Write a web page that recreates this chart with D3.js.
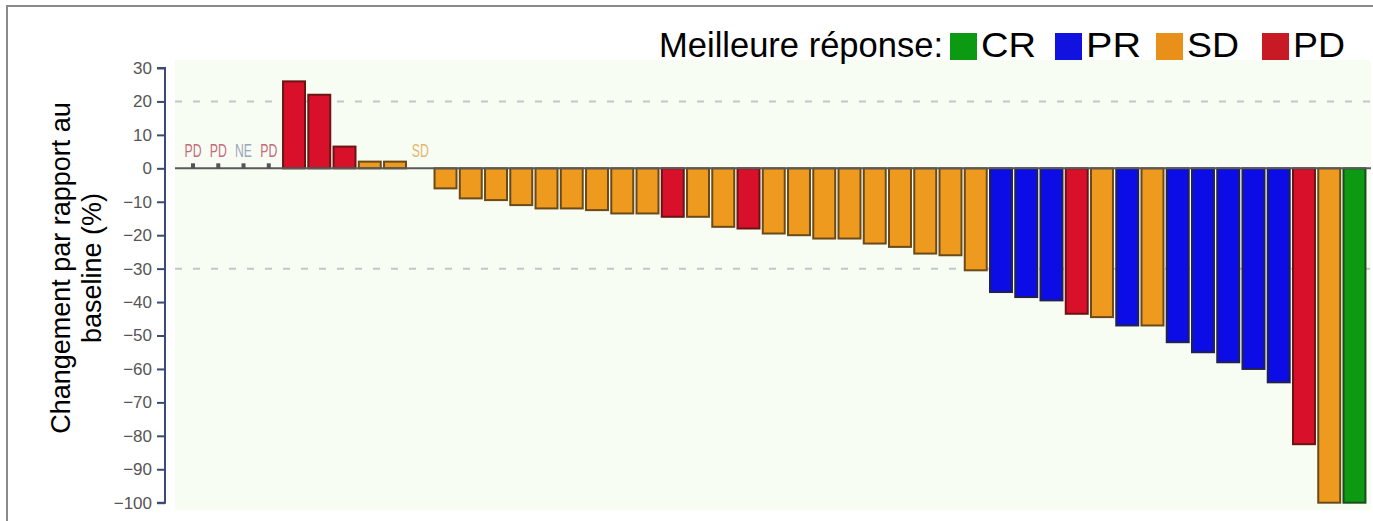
<!DOCTYPE html>
<html>
<head>
<meta charset="utf-8">
<script src="https://cdn.jsdelivr.net/npm/d3@7"></script>
<style>
  body { margin: 0; background: #fff; }
  svg { display: block; font-family: "Liberation Sans", Arial, sans-serif; }
</style>
</head>
<body>
<svg id="chart" width="1373" height="521"></svg>
<script>
// One slot per patient, sorted by best change from baseline
const patients = d3.range(1, 48).map(i => "P" + i);
const changes = [0, 0, 0, 0, 26, 22, 6.5, 2, 2, 0,
    -6, -9, -9.5, -11, -12, -12, -12.5, -13.5, -13.5, -14.5,
    -14.5, -17.5, -18, -19.5, -20, -21, -21, -22.5, -23.5, -25.5,
    -26, -30.5, -37, -38.5, -39.5, -43.5, -44.5, -47, -47, -52,
    -55, -58, -60, -64, -82.5, -100, -100];
const responses = ["PD", "PD", "NE", "PD", "PD", "PD", "PD", "SD", "SD", "SD",
    "SD", "SD", "SD", "SD", "SD", "SD", "SD", "SD", "SD", "PD",
    "SD", "SD", "PD", "SD", "SD", "SD", "SD", "SD", "SD", "SD",
    "SD", "SD", "PR", "PR", "PR", "PD", "SD", "PR", "SD", "PR",
    "PR", "PR", "PR", "PR", "PD", "SD", "CR"];
// patients with no measurable bar: small marker on the zero line + text label
const markerSlots = [0, 1, 2, 3];
const labelSlots = [0, 1, 2, 3, 9];

const legendKeys = ["CR", "PR", "SD", "PD"];
const yTicks = [30, 20, 10, 0, -10, -20, -30, -40, -50, -60, -70, -80, -90, -100];
const refLines = [20, -30];

const fill = {CR: "#0b9a12", PR: "#0c0ce6", SD: "#ee9a1e", PD: "#d8102a"};
const edge = {CR: "#1d4a1d", PR: "#22224e", SD: "#6b4a1a", PD: "#6a1414"};
const legendFill = {CR: "#0c9a12", PR: "#1212e0", SD: "#e8901a", PD: "#c81a24"};
const labelColor = {PD: "#c66a7c", NE: "#a0a6bc", SD: "#e2b66a"};

const svg = d3.select("#chart");

// outer frame
svg.append("path")
    .attr("d", "M7,521 V6 H1373")
    .attr("fill", "none")
    .attr("stroke", "#8a8a8a")
    .attr("stroke-width", 2);

let y = d3.scaleLinear().domain([30, -100]).range([68, 502.7]);
let x = d3.scaleBand().domain(patients).range([180.4, 1367.1])
    .paddingInner(0.13).paddingOuter(0.065);

// plot background
svg.append("rect")
    .attr("x", 175).attr("y", 60)
    .attr("width", 1196).attr("height", 450)
    .attr("fill", "#f7fdf2");

// dashed reference lines
svg.selectAll(".ref").data(refLines).enter().append("line")
    .attr("class", "ref")
    .attr("x1", 175).attr("x2", 1371)
    .attr("y1", d => y(d)).attr("y2", d => y(d))
    .attr("stroke", "#c4c6c8")
    .attr("stroke-width", 2)
    .attr("stroke-dasharray", "7,11");

// bars
svg.append("g").selectAll("rect")
    .data(changes.map((v, i) => ({id: patients[i], v: v, r: responses[i]})).filter(d => d.v !== 0))
    .enter().append("rect")
    .attr("x", d => x(d.id))
    .attr("width", x.bandwidth())
    .attr("y", d => y(Math.max(0, d.v)))
    .attr("height", d => Math.abs(y(d.v) - y(0)))
    .attr("fill", d => fill[d.r])
    .attr("stroke", d => edge[d.r])
    .attr("stroke-width", 2);

// zero line
svg.append("line")
    .attr("x1", 175).attr("x2", 1371)
    .attr("y1", y(0)).attr("y2", y(0))
    .attr("stroke", "#5a5a5a")
    .attr("stroke-width", 2);

// markers for patients without bars
svg.selectAll(".marker").data(markerSlots).enter().append("rect")
    .attr("class", "marker")
    .attr("x", d => x(patients[d]) + x.bandwidth() / 2 - 2)
    .attr("y", y(0) - 5)
    .attr("width", 4).attr("height", 5)
    .attr("fill", "#555");

svg.selectAll(".lbl").data(labelSlots).enter().append("text")
    .attr("class", "lbl")
    .attr("x", d => x(patients[d]) + x.bandwidth() / 2 - 8.5)
    .attr("y", 156.5)
    .attr("font-size", 18)
    .attr("textLength", 17)
    .attr("lengthAdjust", "spacingAndGlyphs")
    .attr("fill", d => labelColor[responses[d]])
    .text(d => responses[d]);

// y axis
let yAxis = d3.axisLeft(y).tickValues(yTicks).tickSize(8).tickPadding(5);
let gy = svg.append("g")
    .attr("transform", "translate(165,0)")
    .call(yAxis);
gy.select(".domain").attr("stroke", "#3c4a78").attr("stroke-width", 2)
    .attr("d", "M-8," + y(30) + "H0V" + y(-100) + "H-8");
gy.selectAll(".tick line").attr("stroke", "#3c4a78").attr("stroke-width", 2);
gy.selectAll(".tick text")
    .attr("fill", "#555")
    .attr("font-size", 17)
    .attr("font-family", "Liberation Sans, Arial, sans-serif");

// y axis title, two lines
let title = svg.append("text")
    .attr("transform", "translate(70,268) rotate(-90)")
    .attr("text-anchor", "middle")
    .attr("font-size", 27)
    .attr("fill", "#000");
title.append("tspan").attr("x", 0).attr("y", 0).text("Changement par rapport au");
title.append("tspan").attr("x", 0).attr("y", 30.5).text("baseline (%)");

// legend
let legend = svg.append("g");
legend.append("text")
    .attr("x", 659).attr("y", 57)
    .attr("font-size", 35)
    .attr("textLength", 284)
    .attr("lengthAdjust", "spacingAndGlyphs")
    .text("Meilleure réponse:");
let legendX = [950, 1055, 1156, 1262];
let legendW = [55, 55, 52, 52];
let items = legend.selectAll(".item").data(legendKeys).enter().append("g")
    .attr("transform", (d, i) => "translate(" + legendX[i] + ",0)");
items.append("rect")
    .attr("x", 0).attr("y", 33)
    .attr("width", 27).attr("height", 27)
    .attr("fill", d => legendFill[d]);
items.append("text")
    .attr("x", 31).attr("y", 57)
    .attr("font-size", 35)
    .attr("textLength", (d, i) => legendW[i])
    .attr("lengthAdjust", "spacingAndGlyphs")
    .text(d => d);
</script>
</body>
</html>
